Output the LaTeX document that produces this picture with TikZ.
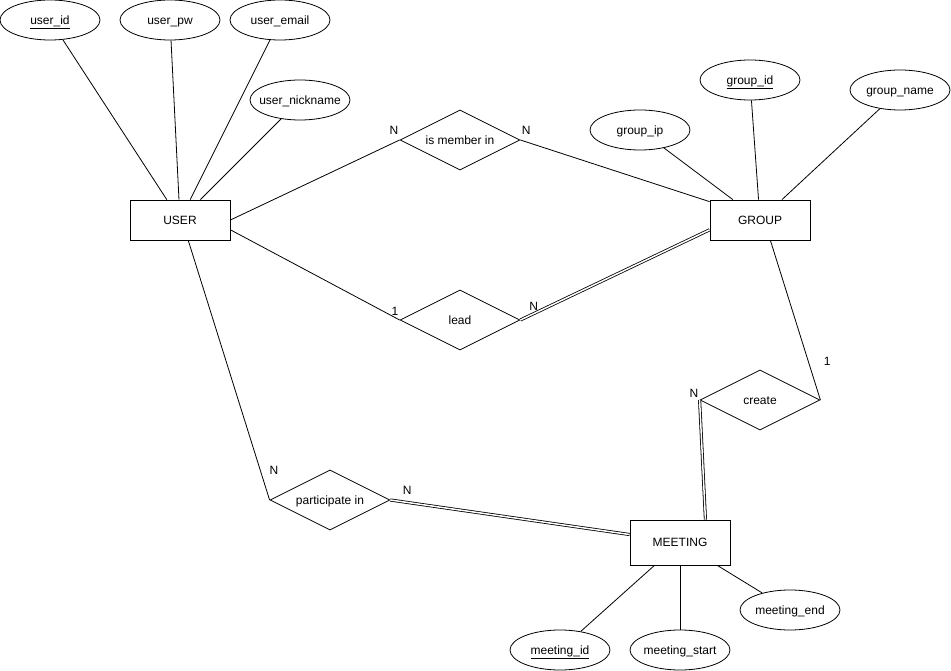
\documentclass[tikz,border=0pt]{standalone}
\usepackage{fontspec}
\setmainfont{Liberation Sans}
\usetikzlibrary{shapes.geometric}

\begin{document}
\begin{tikzpicture}[x=1pt, y=-1pt, line width=0.8pt,
    font=\fontsize{12}{14}\selectfont,
    entity/.style={draw, rectangle, minimum width=100pt, minimum height=40pt, inner sep=0pt, text height=8.5pt, text depth=0pt},
    attr/.style={draw, ellipse, minimum width=100pt, minimum height=40pt, inner xsep=-15pt, inner ysep=0pt, text height=8.5pt, text depth=0pt},
    rel/.style={draw, diamond, minimum width=120pt, minimum height=60pt, inner sep=0pt, aspect=2, text height=8.5pt, text depth=0pt},
    card/.style={inner sep=1pt},
    total/.style={double, double distance=1.5pt}]
          \useasboundingbox (0,0) rectangle (951,671);

          \node[entity] (user) at (180,220) {USER};
          \node[entity] (group) at (760,220) {GROUP};
          \node[entity, minimum height=45pt] (meeting) at (680,542.5) {MEETING};

          \node[attr] (userid) at (50,20) {\underline{user\_id}};
          \node[attr] (userpw) at (170,20) {user\_pw};
          \node[attr] (useremail) at (280,20) {user\_email};
          \node[attr] (usernick) at (300,100) {user\_nickname};

          \node[attr] (groupip) at (640,130) {group\_ip};
          \node[attr] (groupid) at (750,80) {\underline{group\_id}};
          \node[attr] (groupname) at (900,90) {group\_name};

          \node[attr] (meetingid) at (560,650) {\underline{meeting\_id}};
          \node[attr] (meetingstart) at (680,650) {meeting\_start};
          \node[attr] (meetingend) at (790,610) {meeting\_end};

          \node[rel] (member) at (460,140) {is member in};
          \node[rel] (lead) at (460,320) {lead};
          \node[rel] (create) at (760,400) {create};
          \node[rel] (part) at (330,500) {participate in};

          \draw (userid) to (user);
          \draw (userpw) to (user);
          \draw (useremail) to (user);
          \draw (usernick) to (user);

          \draw (groupip) to (group);
          \draw (groupid) to (group);
          \draw (groupname) to (group);

          \draw (meeting) to (meetingid);
          \draw (meeting) to (meetingstart);
          \draw (meeting) to (meetingend);

          \draw (user.east) to node[card, pos=1, anchor=south east, yshift=4pt]{N} (member.west);
          \draw (member.east) to node[card, pos=0, anchor=south west, yshift=4pt]{N} (group.160);

          \draw (user.-11.3) to node[card, pos=1, anchor=south east, yshift=3pt]{1} (lead.west);
          \draw[total] (lead.east) to node[card, pos=0.07, above, yshift=2pt]{N} (group.191.3);

          \draw (group.-63.4) to node[card, pos=0.76, right=14pt]{1} (create.east);
          \draw[total] (create.west) to node[card, pos=0, anchor=south east, yshift=1pt]{N} (meeting.42);

          \draw (user.-68) to node[card, pos=0.885, right=8pt]{N} (part.west);
          \draw[total] (part.east) to node[card, pos=0, anchor=south west, xshift=11pt, yshift=4pt]{N} (meeting.171.5);
        \end{tikzpicture}
\end{document}
